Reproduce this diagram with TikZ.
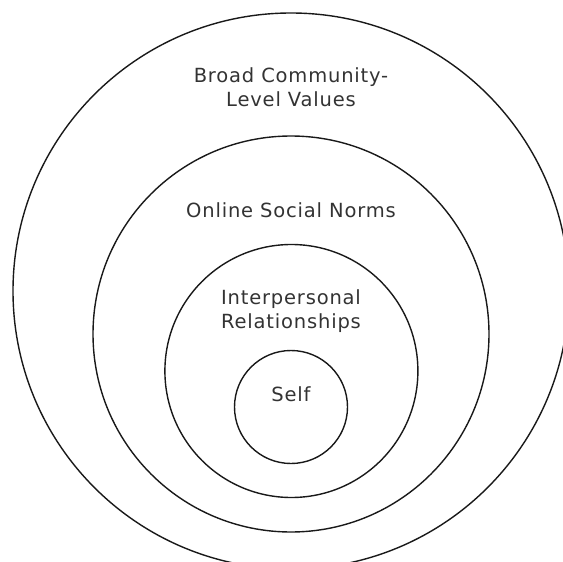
\documentclass[tikz,border=0pt]{standalone}
\usepackage{fontspec}
\setmainfont{DejaVu Sans}[LetterSpace=4.2]
\usepackage{tikz}

\begin{document}
\begin{tikzpicture}[x=1pt, y=-1pt,
    ring/.style={circle, draw=black!90, line width=1.4pt, inner sep=0pt},
    lbl/.style={text=black!80, align=center, font=\fontsize{19.5}{24.4}\selectfont}]
    \useasboundingbox (0,0) rectangle (563,562);
    \clip (0,0) rectangle (563,562);
    \node[ring, minimum size=556pt] (B) at (291, 291){};
    \node[ring, minimum size=396pt] (O) at (291, 334){};
    \node[ring, minimum size=253pt] (I) at (291.4, 371){};
    \node[ring, minimum size=113pt] (S) at (291, 407){};
    \node[lbl] (Bl) at (291, 87.5){Broad Community-\\Level Values};
    \node[lbl] (Ol) at (291, 210.7){Online Social Norms};
    \node[lbl] (Il) at (291, 311){Interpersonal\\Relationships};
    \node[lbl] (Sl) at (291, 394){Self};
  \end{tikzpicture}
\end{document}
